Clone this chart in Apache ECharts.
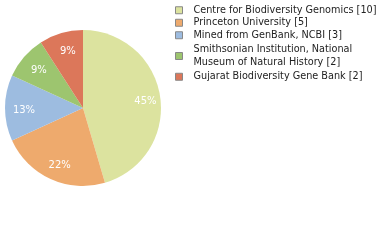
<!DOCTYPE html>
<html>
<head>
<meta charset="utf-8">
<script src="https://cdn.jsdelivr.net/npm/echarts@6/dist/echarts.min.js"></script>
<style>
  html, body { margin: 0; padding: 0; background: #fff; }
  #chart { width: 380px; height: 240px; }
</style>
</head>
<body>
<div id="chart"></div>
<script>
const categories = [
  'Centre for Biodiversity Genomics [10]',
  'Princeton University [5]',
  'Mined from GenBank, NCBI [3]',
  'Smithsonian Institution, National\nMuseum of Natural History [2]',
  'Gujarat Biodiversity Gene Bank [2]'
]
const counts = [10, 5, 3, 2, 2]
const colors = ['#dce39f', '#eeaa6d', '#9dbce0', '#9dc56f', '#dc775a']

const total = counts.reduce((a, b) => a + b, 0)
const pieData = categories.map((name, i) => ({
  name: name,
  value: counts[i],
  itemStyle: { color: colors[i] }
}))

const myChart = echarts.init(document.getElementById('chart'))
myChart.setOption({
  animation: false,
  legend: {
    orient: 'vertical',
    left: 175,
    top: 4,
    padding: 0,
    icon: 'rect',
    itemWidth: 7,
    itemHeight: 7,
    itemGap: 0,
    itemStyle: { borderColor: '#888', borderWidth: 1 },
    textStyle: {
      fontFamily: 'DejaVu Sans',
      fontSize: 9.7,
      lineHeight: 12.5,
      color: '#222',
      padding: [0, 0, 0, 6]
    },
    // the two-line entry gets a bit of extra room below it
    data: categories.map((name, i) => i === 3
      ? { name: name, textStyle: { padding: [0, 0, 4, 6] } }
      : name)
  },
  series: [
    {
      type: 'pie',
      center: [83, 108],
      radius: [0, 78],
      startAngle: 90,
      clockwise: true,
      silent: true,
      label: { show: false },
      labelLine: { show: false },
      data: pieData
    },
    {
      // label ring only, so labels sit at about 3/4 of the radius
      type: 'pie',
      center: [83, 108],
      radius: [38, 78],
      startAngle: 90,
      clockwise: true,
      silent: true,
      legendHoverLink: false,
      itemStyle: { color: 'rgba(0,0,0,0)' },
      label: {
        show: true,
        position: 'inside',
        offset: [2, 2],
        color: '#fff',
        fontFamily: 'DejaVu Sans',
        fontSize: 10,
        formatter: p => Math.floor(p.value / total * 100) + '%'
      },
      labelLine: { show: false },
      data: counts.map((v, i) => ({ name: 'lbl' + i, value: v }))
    }
  ]
})
</script>
</body>
</html>
